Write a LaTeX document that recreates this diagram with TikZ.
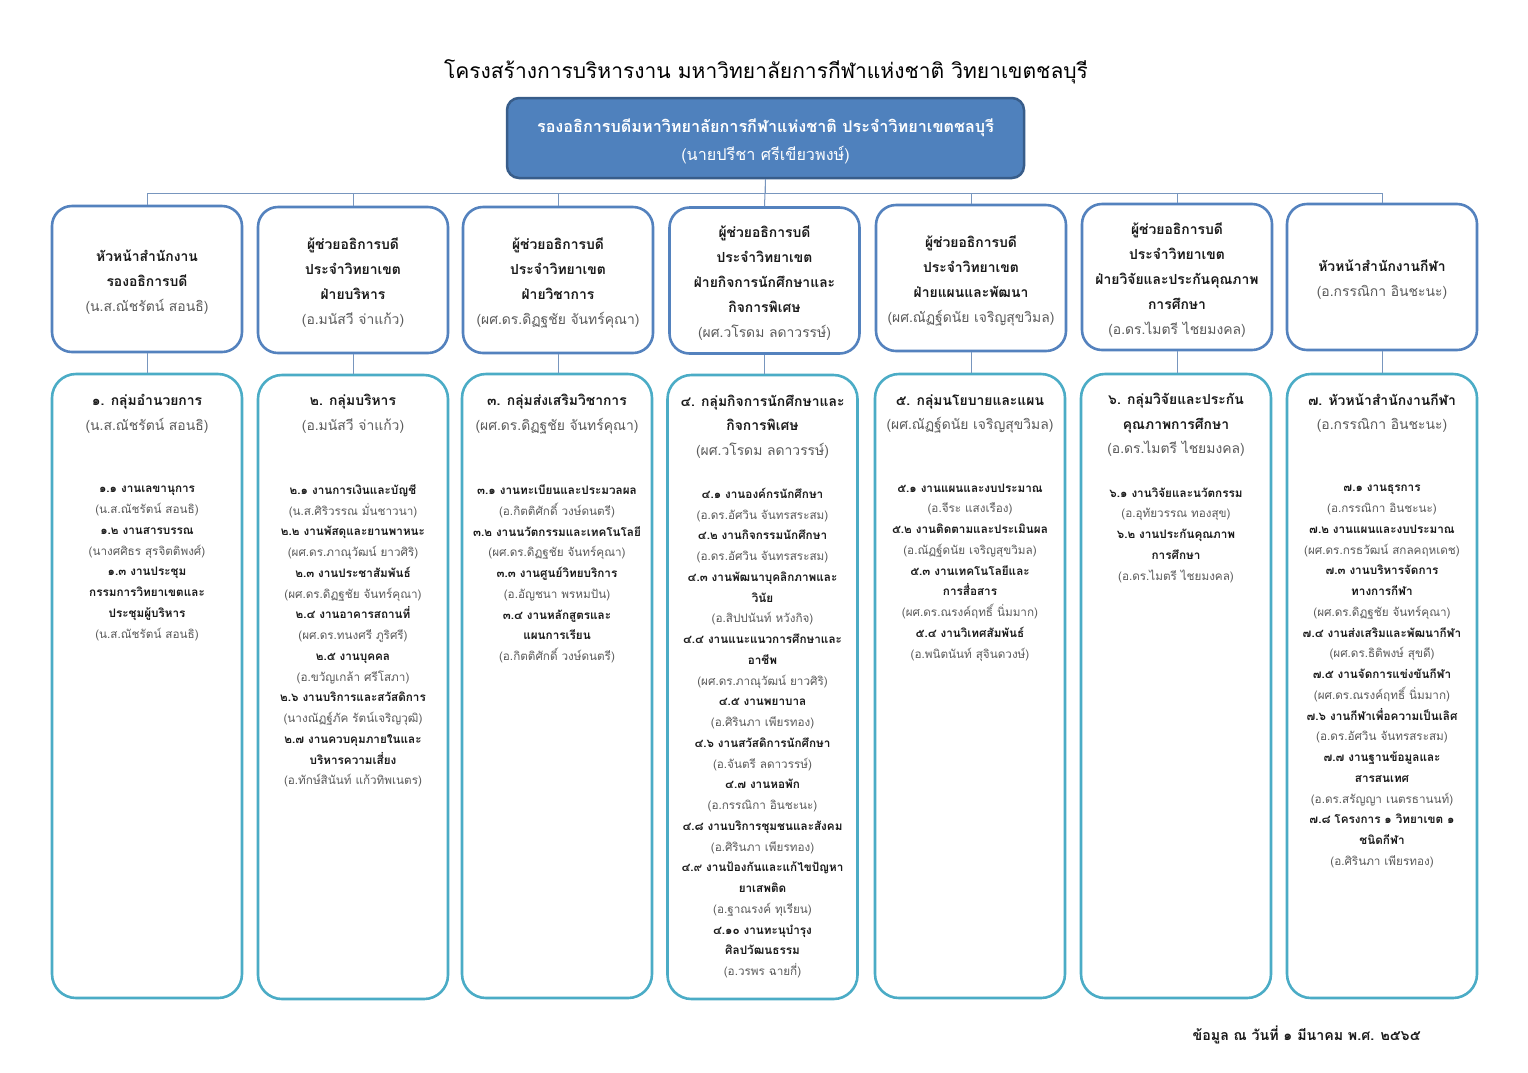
\documentclass[tikz,border=0pt]{standalone}
\usepackage{fontspec}
\setmainfont[Script=Thai]{Loma}
\definecolor{topfill}{RGB}{79,129,189}
\definecolor{topline}{RGB}{56,93,138}
\definecolor{postline}{RGB}{84,130,190}
\definecolor{groupline}{RGB}{75,172,198}
\definecolor{linkcol}{RGB}{120,150,190}
\definecolor{namecol}{RGB}{90,90,90}
\definecolor{headcol}{RGB}{25,25,25}
\newcommand{\who}[1]{{\mdseries\color{namecol}#1}}
\begin{document}
\begin{tikzpicture}[x=1pt,y=-1pt,
	rectorbox/.style={draw=topline,fill=topfill,line width=2.5,rounded corners=12,minimum width=517,minimum height=80},
	postbox/.style={draw=postline,fill=white,line width=2.6,rounded corners=20,minimum width=190,minimum height=146},
	groupbox/.style={draw=groupline,fill=white,line width=2.6,rounded corners=24,minimum width=190,minimum height=624},
	link/.style={draw=linkcol,line width=1},
	posttext/.style={align=center,text=headcol,yshift=-3pt,font=\bfseries\fontsize{13.9}{25}\selectfont},
	grouphead/.style={align=center,text=headcol,yshift=-2pt,font=\bfseries\fontsize{13.9}{24.5}\selectfont},
	groupitems/.style={align=center,text=headcol,yshift=-2pt,font=\bfseries\fontsize{11.7}{20.75}\selectfont}]
		\fill[white] (0,0) rectangle (1528,1072);
		\useasboundingbox (0,0) rectangle (1528,1072);
		
		\node[font=\fontsize{21}{24}\selectfont] (title) at (766,72) {โครงสร้างการบริหารงาน มหาวิทยาลัยการกีฬาแห่งชาติ วิทยาเขตชลบุรี};
		
		\node[rectorbox,align=center,text=white,font=\fontsize{16.2}{28}\selectfont] (rector) at (765.5,138) {};
		\node[align=center,text=white,yshift=-3pt,font=\fontsize{16.2}{28}\selectfont] (rectortext) at (rector)
			{\textbf{รองอธิการบดีมหาวิทยาลัยการกีฬาแห่งชาติ ประจำวิทยาเขตชลบุรี}\\(นายปรีชา ศรีเขียวพงษ์)};
		
		\node[postbox] (post1) at (147,279) {};
		\node[postbox] (post2) at (353,280) {};
		\node[postbox] (post3) at (558,280) {};
		\node[postbox] (post4) at (764.5,280.5) {};
		\node[postbox] (post5) at (971,278) {};
		\node[postbox] (post6) at (1177,277) {};
		\node[postbox] (post7) at (1382,277) {};
		
		\node[groupbox] (grp1) at (147,686) {};
		\node[groupbox] (grp2) at (353,687) {};
		\node[groupbox] (grp3) at (557,686) {};
		\node[groupbox] (grp4) at (762.5,687) {};
		\node[groupbox] (grp5) at (970,686) {};
		\node[groupbox] (grp6) at (1176,686) {};
		\node[groupbox] (grp7) at (1382,686) {};
		
		\draw[link] (rector.south) -- ++(0,14) -| (post1.north);
		\draw[link] (rector.south) -- ++(0,14) -| (post2.north);
		\draw[link] (rector.south) -- ++(0,14) -| (post3.north);
		\draw[link] (rector.south) -- (post4.north);
		\draw[link] (rector.south) -- ++(0,14) -| (post5.north);
		\draw[link] (rector.south) -- ++(0,14) -| (post6.north);
		\draw[link] (rector.south) -- ++(0,14) -| (post7.north);
		
		\draw[link] (post1.south) -- (post1.south |- grp1.north);
		\draw[link] (post2.south) -- (post2.south |- grp2.north);
		\draw[link] (post3.south) -- (post3.south |- grp3.north);
		\draw[link] (post4.south) -- (post4.south |- grp4.north);
		\draw[link] (post5.south) -- (post5.south |- grp5.north);
		\draw[link] (post6.south) -- (post6.south |- grp6.north);
		\draw[link] (post7.south) -- (post7.south |- grp7.north);
		
		\node[posttext] (post1text) at (post1) {หัวหน้าสำนักงาน\\รองอธิการบดี\\\who{(น.ส.ณัชรัตน์ สอนธิ)}};
		\node[posttext] (post2text) at (post2) {ผู้ช่วยอธิการบดี\\ประจำวิทยาเขต\\ฝ่ายบริหาร\\\who{(อ.มนัสวี จ่าแก้ว)}};
		\node[posttext] (post3text) at (post3) {ผู้ช่วยอธิการบดี\\ประจำวิทยาเขต\\ฝ่ายวิชาการ\\\who{(ผศ.ดร.ดิฏฐชัย จันทร์คุณา)}};
		\node[posttext] (post4text) at (post4) {ผู้ช่วยอธิการบดี\\ประจำวิทยาเขต\\ฝ่ายกิจการนักศึกษาและ\\กิจการพิเศษ\\\who{(ผศ.วโรดม ลดาวรรษ์)}};
		\node[posttext] (post5text) at (post5) {ผู้ช่วยอธิการบดี\\ประจำวิทยาเขต\\ฝ่ายแผนและพัฒนา\\\who{(ผศ.ณัฏฐ์ดนัย เจริญสุขวิมล)}};
		\node[posttext] (post6text) at (post6) {ผู้ช่วยอธิการบดี\\ประจำวิทยาเขต\\ฝ่ายวิจัยและประกันคุณภาพ\\การศึกษา\\\who{(อ.ดร.ไมตรี ไชยมงคล)}};
		\node[posttext] (post7text) at (post7) {หัวหน้าสำนักงานกีฬา\\\who{(อ.กรรณิกา อินชะนะ)}};
		
		\node[grouphead] (grp1head) at (147,412) {๑. กลุ่มอำนวยการ\\\who{(น.ส.ณัชรัตน์ สอนธิ)}};
		\node[groupitems] (grp1items) at (147,561.5) {๑.๑ งานเลขานุการ\\\who{(น.ส.ณัชรัตน์ สอนธิ)}\\๑.๒ งานสารบรรณ\\\who{(นางศศิธร สุรจิตติพงศ์)}\\๑.๓ งานประชุม\\กรรมการวิทยาเขตและ\\ประชุมผู้บริหาร\\\who{(น.ส.ณัชรัตน์ สอนธิ)}};
		
		\node[grouphead] (grp2head) at (353,412) {๒. กลุ่มบริหาร\\\who{(อ.มนัสวี จ่าแก้ว)}};
		\node[groupitems] (grp2items) at (353,634) {๒.๑ งานการเงินและบัญชี\\\who{(น.ส.ศิริวรรณ มั่นชาวนา)}\\๒.๒ งานพัสดุและยานพาหนะ\\\who{(ผศ.ดร.ภาณุวัฒน์ ยาวศิริ)}\\๒.๓ งานประชาสัมพันธ์\\\who{(ผศ.ดร.ดิฏฐชัย จันทร์คุณา)}\\๒.๔ งานอาคารสถานที่\\\who{(ผศ.ดร.ทนงศรี ภูริศรี)}\\๒.๕ งานบุคคล\\\who{(อ.ขวัญเกล้า ศรีโสภา)}\\๒.๖ งานบริการและสวัสดิการ\\\who{(นางณัฏฐ์ภัค รัตน์เจริญวุฒิ)}\\๒.๗ งานควบคุมภายในและ\\บริหารความเสี่ยง\\\who{(อ.ทักษ์สินันท์ แก้วทิพเนตร)}};
		
		\node[grouphead] (grp3head) at (557,412) {๓. กลุ่มส่งเสริมวิชาการ\\\who{(ผศ.ดร.ดิฏฐชัย จันทร์คุณา)}};
		\node[groupitems] (grp3items) at (557,572) {๓.๑ งานทะเบียนและประมวลผล\\\who{(อ.กิตติศักดิ์ วงษ์ดนตรี)}\\๓.๒ งานนวัตกรรมและเทคโนโลยี\\\who{(ผศ.ดร.ดิฏฐชัย จันทร์คุณา)}\\๓.๓ งานศูนย์วิทยบริการ\\\who{(อ.อัญชนา พรหมปัน)}\\๓.๔ งานหลักสูตรและ\\แผนการเรียน\\\who{(อ.กิตติศักดิ์ วงษ์ดนตรี)}};
		
		\node[grouphead] (grp4head) at (762.5,424.5) {๔. กลุ่มกิจการนักศึกษาและ\\กิจการพิเศษ\\\who{(ผศ.วโรดม ลดาวรรษ์)}};
		\node[groupitems] (grp4items) at (762.5,731) {๔.๑ งานองค์กรนักศึกษา\\\who{(อ.ดร.อัศวิน จันทรสระสม)}\\๔.๒ งานกิจกรรมนักศึกษา\\\who{(อ.ดร.อัศวิน จันทรสระสม)}\\๔.๓ งานพัฒนาบุคลิกภาพและ\\วินัย\\\who{(อ.สิปปนันท์ หวังกิจ)}\\๔.๔ งานแนะแนวการศึกษาและ\\อาชีพ\\\who{(ผศ.ดร.ภาณุวัฒน์ ยาวศิริ)}\\๔.๕ งานพยาบาล\\\who{(อ.ศิรินภา เพียรทอง)}\\๔.๖ งานสวัสดิการนักศึกษา\\\who{(อ.จันตรี ลดาวรรษ์)}\\๔.๗ งานหอพัก\\\who{(อ.กรรณิกา อินชะนะ)}\\๔.๘ งานบริการชุมชนและสังคม\\\who{(อ.ศิรินภา เพียรทอง)}\\๔.๙ งานป้องกันและแก้ไขปัญหา\\ยาเสพติด\\\who{(อ.ฐาณรงค์ ทุเรียน)}\\๔.๑๐ งานทะนุบำรุง\\ศิลปวัฒนธรรม\\\who{(อ.วรพร ฉายกี่)}};
		
		\node[grouphead] (grp5head) at (970,412) {๕. กลุ่มนโยบายและแผน\\\who{(ผศ.ณัฏฐ์ดนัย เจริญสุขวิมล)}};
		\node[groupitems] (grp5items) at (970,570.5) {๕.๑ งานแผนและงบประมาณ\\\who{(อ.จีระ แสงเรือง)}\\๕.๒ งานติดตามและประเมินผล\\\who{(อ.ณัฏฐ์ดนัย เจริญสุขวิมล)}\\๕.๓ งานเทคโนโลยีและ\\การสื่อสาร\\\who{(ผศ.ดร.ณรงค์ฤทธิ์ นิ่มมาก)}\\๕.๔ งานวิเทศสัมพันธ์\\\who{(อ.พนิตนันท์ สุจินดวงษ์)}};
		
		\node[grouphead] (grp6head) at (1176,423) {๖. กลุ่มวิจัยและประกัน\\คุณภาพการศึกษา\\\who{(อ.ดร.ไมตรี ไชยมงคล)}};
		\node[groupitems] (grp6items) at (1176,533) {๖.๑ งานวิจัยและนวัตกรรม\\\who{(อ.อุทัยวรรณ ทองสุข)}\\๖.๒ งานประกันคุณภาพ\\การศึกษา\\\who{(อ.ดร.ไมตรี ไชยมงคล)}};
		
		\node[grouphead] (grp7head) at (1382,411) {๗. หัวหน้าสำนักงานกีฬา\\\who{(อ.กรรณิกา อินชะนะ)}};
		\node[groupitems] (grp7items) at (1382,674.5) {๗.๑ งานธุรการ\\\who{(อ.กรรณิกา อินชะนะ)}\\๗.๒ งานแผนและงบประมาณ\\\who{(ผศ.ดร.กรธวัฒน์ สกลคฤหเดช)}\\๗.๓ งานบริหารจัดการ\\ทางการกีฬา\\\who{(ผศ.ดร.ดิฏฐชัย จันทร์คุณา)}\\๗.๔ งานส่งเสริมและพัฒนากีฬา\\\who{(ผศ.ดร.ธิติพงษ์ สุขดี)}\\๗.๕ งานจัดการแข่งขันกีฬา\\\who{(ผศ.ดร.ณรงค์ฤทธิ์ นิ่มมาก)}\\๗.๖ งานกีฬาเพื่อความเป็นเลิศ\\\who{(อ.ดร.อัศวิน จันทรสระสม)}\\๗.๗ งานฐานข้อมูลและ\\สารสนเทศ\\\who{(อ.ดร.สรัญญา เนตรธานนท์)}\\๗.๘ โครงการ ๑ วิทยาเขต ๑\\ชนิดกีฬา\\\who{(อ.ศิรินภา เพียรทอง)}};
		
		\node[anchor=east,text=headcol,font=\bfseries\fontsize{14.2}{16}\selectfont] (stamp) at (1424,1035) {ข้อมูล ณ วันที่ ๑ มีนาคม พ.ศ. ๒๕๖๕};
	\end{tikzpicture}
\end{document}
